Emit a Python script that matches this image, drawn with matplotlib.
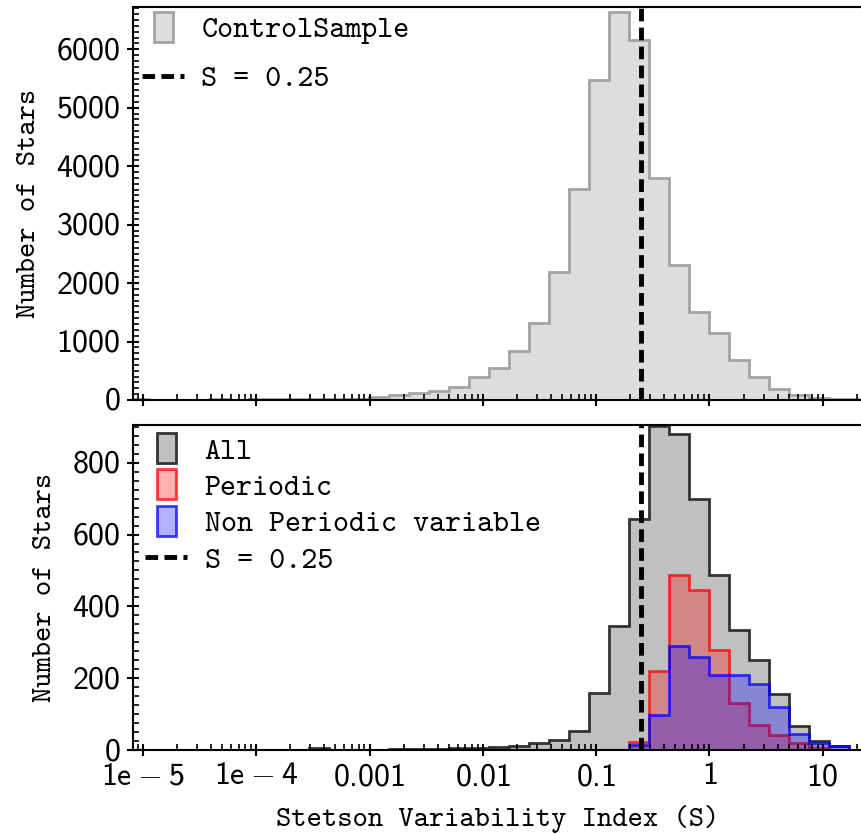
import numpy as np
import matplotlib.pyplot as plt
from matplotlib.patches import Rectangle, Polygon
from matplotlib.legend_handler import HandlerPatch
from matplotlib.ticker import FixedLocator, MultipleLocator, FuncFormatter, LogLocator, NullFormatter

plt.rcParams['font.family'] = 'cmtt10'
plt.rcParams['mathtext.fontset'] = 'custom'
plt.rcParams['mathtext.rm'] = 'cmss10'
plt.rcParams['mathtext.sf'] = 'cmss10'

# same log binning for both panels (37 bins)
bin_edges = np.logspace(-5.119, 1.4105, 38)

control_counts = [12, 0, 0, 8, 10, 8, 12, 15, 12, 15, 20, 25, 45, 85, 125, 150,
                  228, 399, 542, 844, 1312, 2195, 3610, 5475, 6643, 6159, 3793,
                  2310, 1511, 1141, 684, 390, 195, 80, 30, 25, 20]
all_counts = [0, 0, 0, 0, 0, 0, 0, 0, 0, 5, 0, 0, 0, 3, 4, 4, 5, 6, 8, 10,
              20, 28, 52, 158, 344, 642, 902, 881, 699, 487, 335, 251, 157,
              67, 24, 11, 0]
periodic_counts = [0] * 25 + [22, 221, 487, 445, 278, 132, 70, 42, 19, 5, 0, 0]
nonperiodic_counts = [0] * 25 + [14, 97, 290, 258, 209, 209, 184, 119, 45, 19, 11, 0]

s_cut = 0.25
xtick_values = [1e-5, 1e-4, 1e-3, 1e-2, 1e-1, 1, 10]
xtick_labels = ['1e-5', '1e-4', '0.001', '0.01', '0.1', '1', '10']

centers = np.sqrt(bin_edges[:-1] * bin_edges[1:])


def narrow_box(legend, orig_handle, xdescent, ydescent, width, height, fontsize):
    w = width * 0.46
    h = height * 1.4
    return Rectangle((-xdescent + (width - w) / 2, -ydescent + (height - h) / 2), w, h)


def style(ax, minor_y):
    ax.set_xscale('log')
    ax.set_xlim(8.17e-6, 22.2)
    ax.spines['right'].set_visible(False)
    for s in ax.spines.values():
        s.set_linewidth(1.5)
    ax.xaxis.set_major_locator(FixedLocator(xtick_values))
    ax.xaxis.set_minor_locator(LogLocator(base=10, subs=np.arange(2, 10)))
    ax.xaxis.set_minor_formatter(NullFormatter())
    ax.yaxis.set_minor_locator(MultipleLocator(minor_y))
    ax.yaxis.set_major_formatter(FuncFormatter(lambda v, p: r'$\mathrm{%d}$' % v))
    ax.tick_params(which='major', direction='inout', length=8, width=1.5, labelsize=23, pad=5)
    ax.tick_params(axis='x', which='major', pad=7)
    ax.tick_params(which='minor', direction='in', length=4, width=1.2)
    ax.tick_params(top=False, right=False)
    ax.set_ylabel('Number of Stars', fontsize=21, labelpad=10)


fig = plt.figure(figsize=(8.62, 8.34), dpi=100)
ax1 = fig.add_axes([0.1543, 0.5204, 0.8457, 0.4716])
ax2 = fig.add_axes([0.1543, 0.1007, 0.8457, 0.3897])

ax1.hist(centers, bins=bin_edges, weights=control_counts, histtype='stepfilled',
         facecolor='#dddddd', edgecolor='#a3a3a3', linewidth=2, label='ControlSample')
ax1.axvline(s_cut, color='k', ls='--', lw=3.5, dashes=(2.6, 1.3), label='S = 0.25')
style(ax1, 100)
ax1.set_ylim(0, 6730)
ax1.yaxis.set_major_locator(MultipleLocator(1000))
ax1.tick_params(labelbottom=False)

ax2.hist(centers, bins=bin_edges, weights=all_counts, histtype='stepfilled',
         facecolor='#c0c0c0', edgecolor='#333333', linewidth=2, label='All')
ax2.hist(centers, bins=bin_edges, weights=periodic_counts, histtype='stepfilled',
         facecolor=(1, 0, 0, 0.3), edgecolor=(1, 0, 0, 0.75), linewidth=2, label='Periodic')
ax2.hist(centers, bins=bin_edges, weights=nonperiodic_counts, histtype='stepfilled',
         facecolor=(0, 0, 1, 0.3), edgecolor=(0, 0, 1, 0.75), linewidth=2,
         label='Non Periodic variable')
ax2.axvline(s_cut, color='k', ls='--', lw=3.5, dashes=(2.6, 1.3), label='S = 0.25')
style(ax2, 25)
ax2.set_ylim(0, 905)
ax2.yaxis.set_major_locator(MultipleLocator(200))
ax2.set_xticklabels([r'$\mathrm{%s}$' % t for t in xtick_labels])
ax2.set_xlabel('Stetson Variability Index (S)', fontsize=21, labelpad=9)

hmap = {Polygon: HandlerPatch(patch_func=narrow_box)}
ax1.legend(loc='upper left', frameon=False, fontsize=22, handlelength=1.38,
           handletextpad=0.56, labelspacing=0.68, borderpad=0.2, borderaxespad=0.1,
           handler_map=hmap)
ax2.legend(loc='upper left', frameon=False, fontsize=22, handlelength=1.38,
           handletextpad=0.56, labelspacing=0.26, borderpad=0.3, borderaxespad=0.1,
           handler_map=hmap)

fig.savefig('out.png', dpi=100)
